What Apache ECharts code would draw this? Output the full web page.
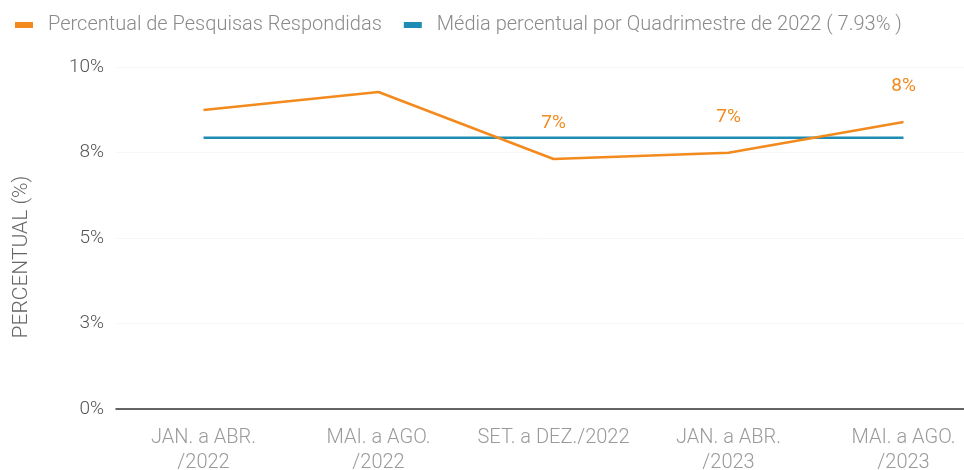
<!DOCTYPE html>
<html>
<head>
<meta charset="utf-8">
<script src="https://cdn.jsdelivr.net/npm/echarts@6/dist/echarts.min.js"></script>
<style>
  html, body { margin: 0; padding: 0; background: #fff; }
  #chart { width: 964px; height: 470px; }
</style>
</head>
<body>
<div id="chart"></div>
<script>
// categorias (quadrimestres)
var categories = ['JAN. a ABR.\n/2022', 'MAI. a AGO.\n/2022', 'SET. a DEZ./2022', 'JAN. a ABR.\n/2023', 'MAI. a AGO.\n/2023'];
// percentual de pesquisas respondidas
var respondidas = [8.74, 9.27, 7.31, 7.49, 8.39];
// quais pontos mostram rótulo
var mostraRotulo = [false, false, true, true, true];
// média de 2022
var media = 7.93;
var mediaSerie = categories.map(function () { return media; });

var laranja = '#f28a1e';
var azul = '#1f8db3';

var chart = echarts.init(document.getElementById('chart'));

chart.setOption({
    animation: false,
    textStyle: { fontFamily: 'Roboto', fontWeight: 300 },
    legend: {
        left: 10,
        top: 10,
        itemWidth: 18,
        itemHeight: 6,
        itemGap: 22,
        icon: 'rect',
        textStyle: { color: '#8a8a8a', fontSize: 20, fontWeight: 300, padding: [0, 0, 0, 10] },
        data: [
            { name: 'Percentual de Pesquisas Respondidas', itemStyle: { color: laranja, opacity: 1 } },
            { name: 'Média percentual por Quadrimestre de 2022 ( 7.93% )', itemStyle: { color: azul } }
        ]
    },
    grid: { left: 116, top: 67, width: 875, height: 342, outerBoundsMode: 'none' },
    xAxis: {
        type: 'category',
        data: categories,
        boundaryGap: true,
        axisLine: { lineStyle: { color: '#333', width: 1.5 } },
        axisTick: { show: false },
        axisLabel: { color: '#9a9a9a', fontSize: 20, fontWeight: 300, lineHeight: 25, margin: 16, interval: 0 }
    },
    yAxis: {
        type: 'value',
        min: 0,
        max: 10,
        interval: 2.5,
        name: 'PERCENTUAL (%)',
        nameLocation: 'middle',
        nameGap: 84,
        nameTextStyle: { color: '#666', fontSize: 21, fontWeight: 300, padding: [0, 38, 0, 0] },
        axisLine: { show: false },
        axisTick: { show: false },
        splitLine: { lineStyle: { color: '#f7f7f7' } },
        axisLabel: {
            color: '#555',
            fontSize: 19,
            fontWeight: 300,
            margin: 12,
            formatter: function (v) { return Math.round(v) + '%'; }
        }
    },
    series: [
        {
            name: 'Percentual de Pesquisas Respondidas',
            type: 'line',
            data: respondidas.map(function (v, i) {
                return { value: v, label: { show: mostraRotulo[i] } };
            }),
            color: laranja,
            lineStyle: { width: 2.5 },
            symbol: 'circle',
            symbolSize: 0,
            showSymbol: true,
            label: {
                show: false,
                position: 'top',
                distance: 26,
                color: laranja,
                fontSize: 19,
                fontWeight: 400,
                formatter: function (p) { return Math.round(p.value) + '%'; }
            },
            z: 3
        },
        {
            name: 'Média percentual por Quadrimestre de 2022 ( 7.93% )',
            type: 'line',
            data: mediaSerie,
            color: azul,
            lineStyle: { width: 2.5 },
            symbol: 'none',
            z: 2
        }
    ]
});
</script>
</body>
</html>
